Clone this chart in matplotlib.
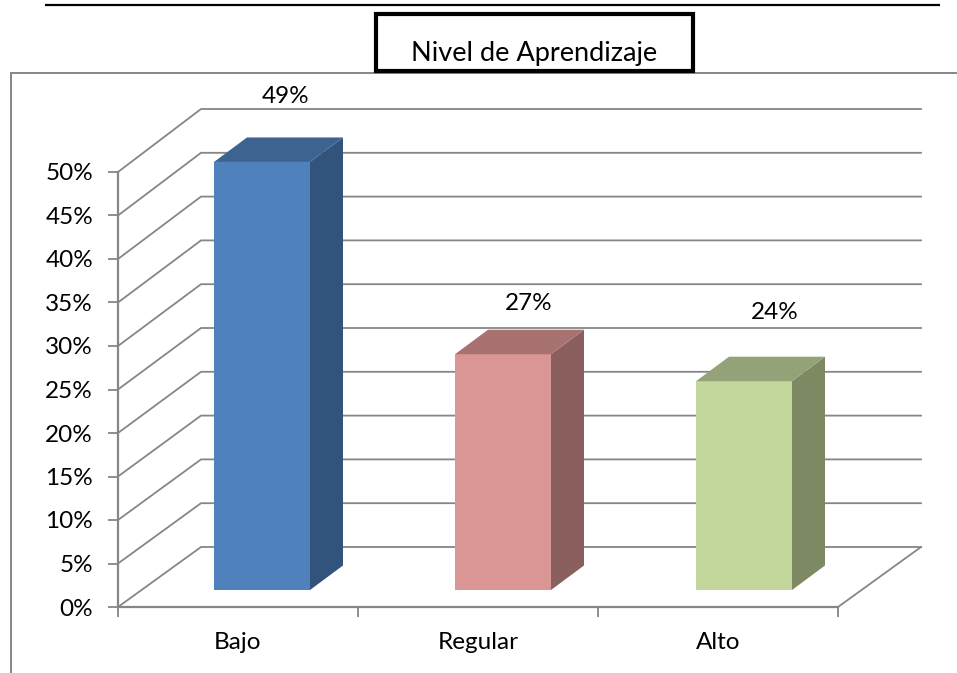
import matplotlib
matplotlib.use("Agg")
import matplotlib.pyplot as plt
from matplotlib.patches import Polygon, Rectangle
from matplotlib.lines import Line2D

categories = ["Bajo", "Regular", "Alto"]
values = [49.2, 27.1, 24.0]
labels = ["49%", "27%", "24%"]
ticks = [0, 5, 10, 15, 20, 25, 30, 35, 40, 45, 50]
front = ["#4F81BD", "#D99694", "#C3D69B"]
side = ["#32547C", "#8B5F5E", "#7C8963"]
top = ["#3D6491", "#A7726F", "#94A377"]

W, H = 957, 673
plt.rcParams["font.family"] = ["Lato", "DejaVu Sans"]
fig = plt.figure(figsize=(W / 100, H / 100), dpi=100)
L, R, T, B = 118, 838, 172, 607
ax = fig.add_axes([L / W, 1 - B / H, (R - L) / W, (B - T) / H])
ax.set_xlim(0, 3)
ax.set_ylim(0, 50)
ax.patch.set_alpha(0)
GRAY = "#868686"
FS = 17.5
ux, uy = (R - L) / 3, (B - T) / 50
wall_dx, wall_dy = 83 / ux, 60 / uy
wall_scale = 438 / 435
bar_w = 96 / ux
bar_step = 241 / ux
off_x, off_y = 24 / ux, 17 / uy
dep_x, dep_y = 33 / ux, 24.5 / uy

for t in ticks:
    back = t * wall_scale + wall_dy
    ax.plot([0, wall_dx, 3 + wall_dx], [t, back, back], color=GRAY, lw=1.3, clip_on=False, zorder=1)
ax.plot([3, 3 + wall_dx], [0, wall_dy], color=GRAY, lw=1.3, clip_on=False, zorder=1)

for i, v in enumerate(values):
    x0 = i * bar_step + 0.5 - bar_w / 2 + off_x
    x1 = x0 + bar_w
    y0 = off_y
    y1 = y0 + v
    ax.add_patch(Rectangle((x0, y0), bar_w, v, fc=front[i], ec="none", zorder=3, clip_on=False))
    ax.add_patch(Polygon([(x1, y0), (x1 + dep_x, y0 + dep_y), (x1 + dep_x, y1 + dep_y), (x1, y1)],
                         fc=side[i], ec="none", zorder=3, clip_on=False))
    ax.add_patch(Polygon([(x0, y1), (x1, y1), (x1 + dep_x, y1 + dep_y), (x0 + dep_x, y1 + dep_y)],
                         fc=top[i], ec="none", zorder=3, clip_on=False))

label_pos = [(0.70, 58.7), (1.712, 34.9), (2.735, 33.9)]
for (lx, ly), s in zip(label_pos, labels):
    ax.text(lx, ly, s, ha="center", va="center", fontsize=FS, color="black", zorder=5)

for s in ("top", "right"):
    ax.spines[s].set_visible(False)
for s in ("left", "bottom"):
    ax.spines[s].set_color(GRAY)
    ax.spines[s].set_linewidth(1.6)
ax.set_yticks(ticks)
ax.set_yticklabels([f"{t}%" for t in ticks], fontsize=FS)
ax.set_xticks([0, 1, 2, 3])
ax.set_xticklabels([])
ax.set_xticks([0.5, 1.5, 2.5], minor=True)
ax.set_xticklabels(categories, minor=True, fontsize=FS)
ax.tick_params(axis="y", length=7, width=1.3, color=GRAY, pad=11)
ax.tick_params(axis="x", which="major", length=7, width=1.3, color=GRAY)
ax.tick_params(axis="x", which="minor", length=0, pad=18)

def px_line(x0, y0, x1, y1, color, lw):
    fig.add_artist(Line2D([x0 / W, x1 / W], [1 - y0 / H, 1 - y1 / H], color=color, lw=lw,
                          transform=fig.transFigure, solid_capstyle="butt"))

px_line(45, 5, 940, 5, "black", 1.6)
px_line(10, 73, 957, 73, GRAY, 1.4)
px_line(11, 73, 11, 673, GRAY, 1.4)
fig.add_artist(Rectangle((376 / W, 1 - 70.5 / H), 317 / W, 56 / H, fc="white", ec="black", lw=3,
                         transform=fig.transFigure, zorder=6))
fig.text(534.5 / W, 1 - 54 / H, "Nivel de Aprendizaje", ha="center", va="center", fontsize=19.5,
         color="black", zorder=7)
fig.savefig("out.png", dpi=100)
